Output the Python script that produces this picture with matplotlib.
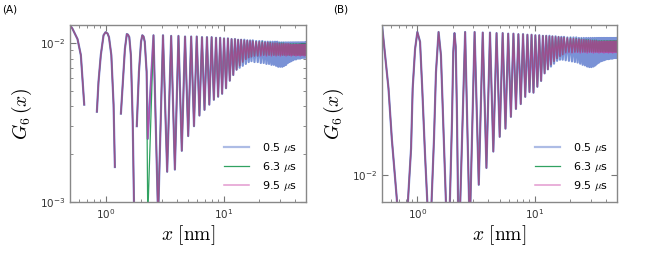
import numpy as np
import matplotlib
matplotlib.use('Agg')
import matplotlib.pyplot as plt

plt.rcParams['mathtext.fontset'] = 'cm'
plt.rcParams['font.family'] = ['DejaVu Sans']

nan = np.nan
labels = ['0.5 $\\mu$s', '6.3 $\\mu$s', '9.5 $\\mu$s']
colors = ['#3358c0', '#1a9850', '#c8349f']

# ---------------- panel A data ----------------
# first arches, shared by all three times (nan = negative value, not drawn on log axis)
a_head_x = [0.5, 0.525, 0.579, 0.618, 0.638, 0.66, nan,
            0.845, 0.872, 0.912, 0.962, 1.0, 1.04, 1.07, 1.12, 1.17, 1.2, nan,
            1.35, 1.42, 1.46, 1.515, 1.55, 1.59, 1.64, 1.70, 1.75, nan,
            1.84, 1.92, 2.0, 2.05, 2.1, 2.15, 2.23]
a_head_y = [0.0130, 0.0123, 0.0106, 0.0084, 0.0060, 0.0041, nan,
            0.0037, 0.0057, 0.0084, 0.0112, 0.0117, 0.0115, 0.0109, 0.0084, 0.0041, 0.00166, nan,
            0.0036, 0.0066, 0.0092, 0.0114, 0.0113, 0.0109, 0.0084, 0.0032, 0.0008, nan,
            0.0030, 0.0066, 0.0102, 0.0112, 0.0110, 0.0102, 0.0066]

# dense part: minima and maxima of each oscillation
trough_x = [2.28, 2.79, 3.33, 3.87, 4.43, 5.02, 5.62, 6.25, 6.9, 7.58,
            8.28, 9.0, 9.73, 10.5, 11.3, 12.1, 12.9, 13.7, 14.55, 15.45,
            16.35, 17.25, 18.3, 19.5, 20.7, 21.9, 23.1, 24.3, 25.5, 26.7,
            27.9, 29.1, 30.3, 31.5, 32.7, 33.9, 35.1, 36.3, 37.5, 38.7,
            39.9, 41.1, 42.3, 43.5, 44.7, 45.9, 47.1, 48.3, 49.5]
peak_x = [2.55, 3.07, 3.6, 4.15, 4.72, 5.32, 5.93, 6.57, 7.24, 7.93,
          8.64, 9.37, 10.1, 10.9, 11.7, 12.5, 13.3, 14.1, 15.0, 15.9,
          16.8, 17.7, 18.9, 20.1, 21.3, 22.5, 23.7, 24.9, 26.1, 27.3,
          28.5, 29.7, 30.9, 32.1, 33.3, 34.5, 35.7, 36.9, 38.1, 39.3,
          40.5, 41.7, 42.9, 44.1, 45.3, 46.5, 47.7, 48.9, 50.1]

a_trough_05 = [0.0025, 0.0008, 0.00155, 0.0016, 0.0021, 0.0026, 0.0030, 0.0035, 0.0038, 0.0041,
               0.0044, 0.0046, 0.0048, 0.0052, 0.0058, 0.0063, 0.0068, 0.0070, 0.0072, 0.0074,
               0.0076, 0.0077, 0.0076, 0.0076, 0.0075, 0.0075, 0.0074, 0.0074, 0.0073, 0.0073,
               0.0072, 0.0071, 0.0071, 0.0071, 0.0072, 0.0073, 0.0075, 0.0076, 0.0077, 0.0078,
               0.0079, 0.0079, 0.0080, 0.0080, 0.0080, 0.0081, 0.0081, 0.0081, 0.0081]
a_peak_05 = [0.0112, 0.0112, 0.0111, 0.0111, 0.0110, 0.0110, 0.0110, 0.0109, 0.0109, 0.0109,
             0.0108, 0.0108, 0.0107, 0.0107, 0.0106, 0.0106, 0.0105, 0.0105, 0.0105, 0.0104,
             0.0104, 0.0104, 0.0103, 0.0103, 0.0103, 0.0102, 0.0102, 0.0102, 0.0102, 0.0102,
             0.0102, 0.0101, 0.0101, 0.0101, 0.0101, 0.0101, 0.0101, 0.0101, 0.0101, 0.0101,
             0.0101, 0.0101, 0.0101, 0.0101, 0.0101, 0.0101, 0.0101, 0.0101, 0.0101]
a_trough_63 = [0.0008, 0.0008, 0.00155, 0.0016, 0.0021, 0.0026, 0.0030, 0.0035, 0.0038, 0.0041,
               0.0044, 0.0046, 0.0048, 0.0052, 0.0058, 0.0063, 0.0068, 0.0072, 0.0076, 0.0079,
               0.0081, 0.0082, 0.0083, 0.0083, 0.0084, 0.0084, 0.0084, 0.0084, 0.0084, 0.0084,
               0.0084, 0.0084, 0.0084, 0.0084, 0.0084, 0.0084, 0.0084, 0.0084, 0.0084, 0.0084,
               0.0084, 0.0084, 0.0084, 0.0084, 0.0084, 0.0084, 0.0084, 0.0084, 0.0084]
a_peak_63 = [0.0112, 0.0112, 0.0111, 0.0111, 0.0110, 0.0110, 0.0110, 0.0109, 0.0109, 0.0109,
             0.0108, 0.0108, 0.0107, 0.0107, 0.0106, 0.0106, 0.0105, 0.0105, 0.0104, 0.0104,
             0.0103, 0.0103, 0.0102, 0.0102, 0.0102, 0.0101, 0.0101, 0.0101, 0.0100, 0.0100,
             0.0100, 0.0100, 0.0100, 0.0100, 0.0099, 0.0099, 0.0099, 0.0099, 0.0099, 0.0099,
             0.0099, 0.0099, 0.0099, 0.0099, 0.0099, 0.0099, 0.0099, 0.0099, 0.0099]
a_trough_95 = [0.0025, 0.0008, 0.00155, 0.0016, 0.0021, 0.0026, 0.0030, 0.0035, 0.0038, 0.0041,
               0.0044, 0.0046, 0.0048, 0.0052, 0.0058, 0.0063, 0.0068, 0.0072, 0.0076, 0.0079,
               0.0081, 0.0082, 0.0083, 0.0083, 0.0083, 0.0084, 0.0083, 0.0084, 0.0083, 0.0084,
               0.0083, 0.0084, 0.0083, 0.0084, 0.0084, 0.0083, 0.0084, 0.0084, 0.0083, 0.0084,
               0.0084, 0.0083, 0.0084, 0.0084, 0.0083, 0.0084, 0.0084, 0.0083, 0.0084]
a_peak_95 = [0.0112, 0.0112, 0.0111, 0.0111, 0.0110, 0.0110, 0.0110, 0.0109, 0.0109, 0.0109,
             0.0108, 0.0108, 0.0107, 0.0107, 0.0106, 0.0106, 0.0105, 0.0105, 0.0104, 0.0104,
             0.0103, 0.0103, 0.0102, 0.0102, 0.0101, 0.0101, 0.0101, 0.0100, 0.0100, 0.0100,
             0.0100, 0.0099, 0.0099, 0.0099, 0.0099, 0.0099, 0.0099, 0.0098, 0.0098, 0.0098,
             0.0098, 0.0098, 0.0098, 0.0098, 0.0098, 0.0098, 0.0098, 0.0098, 0.0098]

# ---------------- panel B data ----------------
b_head_x = [0.5, 0.517, 0.568, 0.606, 0.668, 0.69,
            0.81, 0.83, 0.884, 0.912, 0.956, 1.0, 1.054, 1.10, 1.162, 1.215, 1.24,
            1.30, 1.32, 1.385, 1.44, 1.515, 1.587, 1.66, 1.75, 1.77,
            1.87, 1.89, 1.97, 2.02, 2.07, 2.12, 2.17, 2.22]
b_head_y = [0.0125, 0.01219, 0.01137, 0.01055, 0.00965, 0.0093,
            0.0093, 0.0096, 0.0104, 0.01137, 0.01206, 0.01237, 0.01219, 0.01137, 0.0103, 0.0096, 0.0093,
            0.0093, 0.0096, 0.01055, 0.01165, 0.01237, 0.01195, 0.01082, 0.0096, 0.0093,
            0.0093, 0.0096, 0.01082, 0.0120, 0.01235, 0.0121, 0.0110, 0.0096]

b_trough_05 = [0.0092, 0.0092, 0.00985, 0.0101, 0.01035, 0.01058, 0.01071, 0.0109, 0.01103, 0.01111,
               0.01123, 0.01131, 0.0113, 0.0114, 0.0115, 0.01163, 0.0117, 0.01175, 0.0118, 0.01185,
               0.01187, 0.01187, 0.01186, 0.01185, 0.01184, 0.01183, 0.01182, 0.0118, 0.01178, 0.01177,
               0.01175, 0.01174, 0.01174, 0.01175, 0.01177, 0.0118, 0.01182, 0.01184, 0.01185, 0.01186,
               0.01187, 0.01188, 0.01188, 0.01189, 0.01189, 0.01189, 0.0119, 0.0119, 0.0119]
b_peak_05 = [0.01237, 0.01237, 0.01236, 0.01236, 0.01235, 0.01235, 0.01234, 0.01234, 0.01233, 0.01233,
             0.01232, 0.01232, 0.01231, 0.01231, 0.0123, 0.0123, 0.0123, 0.01229, 0.01229, 0.01228,
             0.01228, 0.01228, 0.01227, 0.01227, 0.01227, 0.01227, 0.01226, 0.01226, 0.01226, 0.01226,
             0.01226, 0.01226, 0.01226, 0.01226, 0.01226, 0.01226, 0.01226, 0.01226, 0.01226, 0.01226,
             0.01226, 0.01226, 0.01226, 0.01226, 0.01226, 0.01226, 0.01226, 0.01226, 0.01226]
b_trough_63 = [0.0092, 0.0092, 0.00985, 0.0101, 0.01035, 0.01058, 0.01071, 0.0109, 0.01103, 0.01111,
               0.01123, 0.01131, 0.0113, 0.0114, 0.0115, 0.01163, 0.0117, 0.01178, 0.01184, 0.01189,
               0.01193, 0.01196, 0.012, 0.01201, 0.012, 0.01201, 0.01201, 0.01201, 0.01201, 0.01201,
               0.01201, 0.01201, 0.01201, 0.01201, 0.01201, 0.01201, 0.01201, 0.01201, 0.01201, 0.01201,
               0.01201, 0.01201, 0.01201, 0.01201, 0.01201, 0.01201, 0.01201, 0.01201, 0.01201]
b_peak_63 = [0.01237, 0.01237, 0.01236, 0.01236, 0.01235, 0.01235, 0.01234, 0.01234, 0.01233, 0.01233,
             0.01232, 0.01232, 0.01231, 0.01231, 0.0123, 0.0123, 0.01229, 0.01229, 0.01228, 0.01228,
             0.01227, 0.01227, 0.01226, 0.01226, 0.01225, 0.01225, 0.01224, 0.01224, 0.01223, 0.01223,
             0.01223, 0.01222, 0.01222, 0.01222, 0.01222, 0.01221, 0.01221, 0.01221, 0.01221, 0.01221,
             0.01221, 0.01221, 0.01221, 0.01221, 0.01221, 0.01221, 0.01221, 0.01221, 0.01221]
b_trough_95 = [0.0092, 0.0092, 0.00985, 0.0101, 0.01035, 0.01058, 0.01071, 0.0109, 0.01103, 0.01111,
               0.01123, 0.01131, 0.0113, 0.0114, 0.0115, 0.01163, 0.0117, 0.01178, 0.01184, 0.01189,
               0.01193, 0.01196, 0.01199, 0.012, 0.01199, 0.012, 0.012, 0.01199, 0.012, 0.012,
               0.01199, 0.012, 0.012, 0.01199, 0.012, 0.012, 0.01199, 0.012, 0.012, 0.01199,
               0.012, 0.012, 0.01199, 0.012, 0.012, 0.01199, 0.012, 0.012, 0.012]
b_peak_95 = [0.01237, 0.01237, 0.01236, 0.01236, 0.01235, 0.01235, 0.01234, 0.01234, 0.01233, 0.01233,
             0.01232, 0.01232, 0.01231, 0.01231, 0.0123, 0.0123, 0.01229, 0.01229, 0.01228, 0.01228,
             0.01227, 0.01227, 0.01226, 0.01225, 0.01225, 0.01224, 0.01224, 0.01223, 0.01223, 0.01222,
             0.01222, 0.01222, 0.01221, 0.01221, 0.01221, 0.0122, 0.0122, 0.0122, 0.0122, 0.0122,
             0.0122, 0.0122, 0.0122, 0.0122, 0.0122, 0.0122, 0.0122, 0.0122, 0.0122]


def build(head_x, head_y, troughs, peaks):
    # head followed by alternating minimum / maximum
    xs = list(head_x)
    ys = list(head_y)
    for tx, ty, px, py in zip(trough_x, troughs, peak_x, peaks):
        xs += [tx, px]
        ys += [ty, py]
    return np.array(xs), np.array(ys)


fig = plt.figure(figsize=(6.51, 2.56), dpi=100)
axA = fig.add_axes([70 / 651, 54 / 256, 236 / 651, 177 / 256])
axB = fig.add_axes([382 / 651, 54 / 256, 235 / 651, 177 / 256])

seriesA = [(a_trough_05, a_peak_05), (a_trough_63, a_peak_63), (a_trough_95, a_peak_95)]
seriesB = [(b_trough_05, b_peak_05), (b_trough_63, b_peak_63), (b_trough_95, b_peak_95)]
styles = [dict(lw=1.6, alpha=0.65), dict(lw=0.9, alpha=0.9), dict(lw=1.1, alpha=0.7)]
legend_alpha = [0.4, 0.9, 0.5]

for ax, head_x, head_y, series in [(axA, a_head_x, a_head_y, seriesA),
                                   (axB, b_head_x, b_head_y, seriesB)]:
    for (tr, pk), c, lab, st in zip(series, colors, labels, styles):
        x, y = build(head_x, head_y, tr, pk)
        ax.plot(x, y, color=c, label=lab, **st)
    ax.set_xscale('log')
    ax.set_yscale('log')
    ax.set_xlim(0.5, 50)
    ax.tick_params(which='both', direction='in', top=True, right=True,
                   color='#777777', labelcolor='#333333', labelsize=7.5)
    ax.tick_params(which='major', length=4)
    ax.tick_params(which='minor', length=2)
    for s in ax.spines.values():
        s.set_color('#888888')
        s.set_linewidth(1.0)
    ax.set_xlabel(r'$x\ [\mathrm{nm}]$', fontsize=14, labelpad=2)
    ax.set_ylabel(r'$G_6\,(x)$', fontsize=14, labelpad=4)
    leg = ax.legend(loc='lower right', frameon=False, fontsize=8, handlelength=2.2,
                    labelspacing=0.45, handletextpad=1.2, borderaxespad=0.4)
    for h, a in zip(leg.get_lines(), legend_alpha):
        h.set_alpha(a)

axA.set_ylim(1e-3, 0.013)
axB.set_ylim(0.0096, 0.0125)
axB.set_yticks([1e-2])
axB.yaxis.set_minor_locator(matplotlib.ticker.NullLocator())

fig.text(2 / 651, 1 - 12 / 256, '(A)', fontsize=7.5)
fig.text(333 / 651, 1 - 12 / 256, '(B)', fontsize=7.5)

fig.savefig('out.png', dpi=100)
